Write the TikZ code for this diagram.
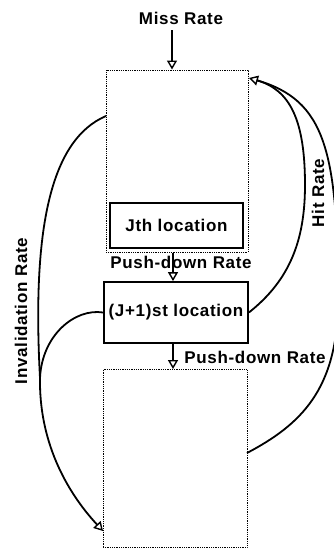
\documentclass[tikz,border=0pt]{standalone}
\usepackage{fontspec}
\setmainfont{Liberation Sans}[LetterSpace=4]
\usetikzlibrary{arrows.meta}
\begin{document}
\begin{tikzpicture}[x=1pt,y=-1pt,
  lbl/.style={font=\fontsize{17}{19}\selectfont\bfseries, inner sep=0pt},
  dotbox/.style={draw, dash pattern=on 1pt off 0.8pt, line width=1pt, inner sep=0pt},
  solidbox/.style={draw, line width=1.8pt, inner sep=0pt, font=\fontsize{17}{19}\selectfont\bfseries},
  conn/.style={line width=1.8pt},
  tip/.style={-{Triangle[fill=white,length=9pt,width=10pt,line width=1.4pt]}}]
\useasboundingbox (0,0) rectangle (334,549);
\clip (0,0) rectangle (334,549);
% boxes
\node[dotbox, minimum width=142pt, minimum height=182pt] (top) at (177,161) {};
\node[solidbox, minimum width=133pt, minimum height=45pt] (jth) at (176.5,225.5) {Jth location};
\node[solidbox, minimum width=144pt, minimum height=61pt] (jp) at (176,312.5) {(J+1)st location};
\node[dotbox, minimum width=144pt, minimum height=178pt] (bot) at (175,458.5) {};
% labels
\node[lbl] (miss) at (181,18) {Miss Rate};
\node[lbl] (pd1) at (181,262) {Push-down Rate};
\node[lbl] (pd2) at (255,357) {Push-down Rate};
\node[lbl, rotate=90] (hit) at (318,193) {Hit Rate};
\node[lbl, rotate=90] (inv) at (21,311) {Invalidation Rate};
% coordinates
\coordinate (ms) at (172,30);
\coordinate (i1) at (106,116);
\coordinate (im) at (40,378);
\coordinate (i2) at (103,531);
\coordinate (h2) at (247,453);
\coordinate (ht) at (249,78);
% vertical arrows
\draw[conn,tip] (ms) -- ([xshift=-5pt]top.north);
\draw[conn,tip] ([xshift=-4pt]top.south) -- ([xshift=-3pt]jp.north);
\draw[conn,tip] ([xshift=-3pt]jp.south) -- ([xshift=-2pt]bot.north);
% invalidation
\draw[conn] (i1) .. controls (50,140) and (32,230) .. (im);
\draw[conn] (jp.west) .. controls (75,308) and (42,335) .. (im);
\draw[conn,tip] (im) .. controls (39,440) and (65,490) .. (i2);
% hit
\draw[conn, shorten >=8pt] (h2) .. controls (300,425) and (338,390) .. (338,300) .. controls (338,150) and (325,100) .. (ht);
\draw[conn,tip] (jp.east) .. controls (290,280) and (305,240) .. (305,185) .. controls (305,120) and (290,90) .. (ht);
\end{tikzpicture}
\end{document}
